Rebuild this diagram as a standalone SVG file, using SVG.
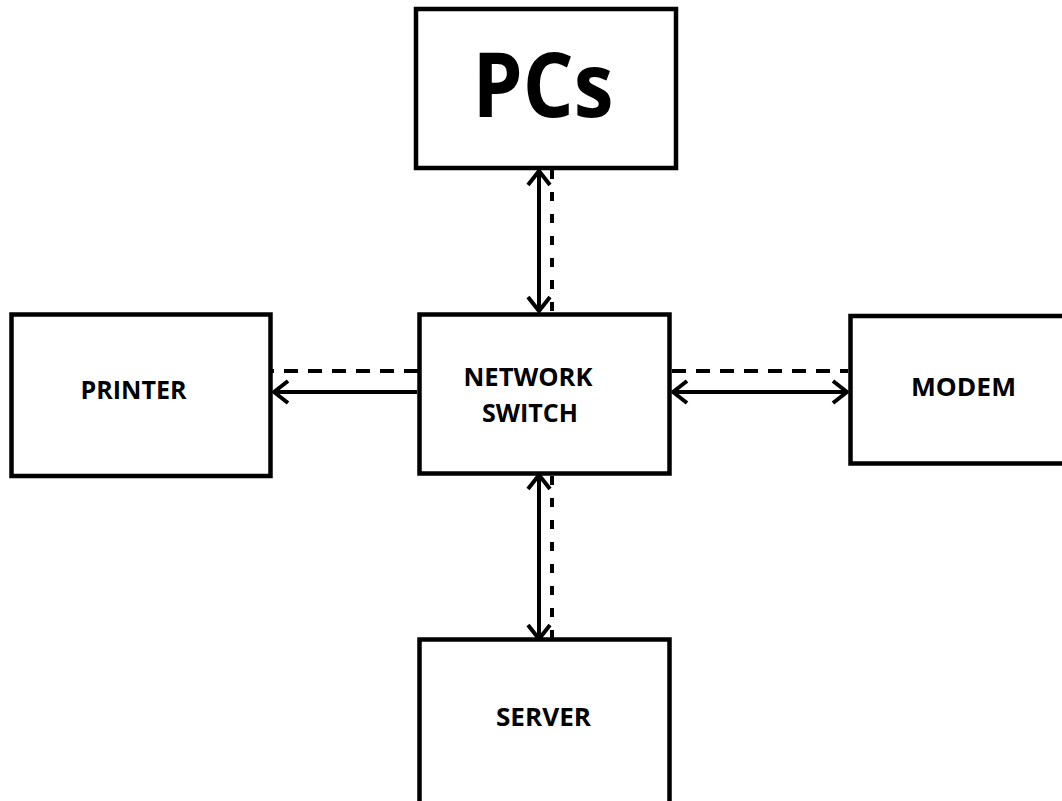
<svg xmlns="http://www.w3.org/2000/svg" width="1062" height="801" viewBox="0 0 1062 801">
<style>
.box{fill:#fff;stroke:#000;stroke-width:4.5}
.lbl{font-family:"Open Sans","Liberation Sans",sans-serif;font-weight:bold;fill:#000;text-anchor:middle}
.solid{stroke:#000;stroke-width:4;fill:none}
.dashh{stroke:#000;stroke-width:4;fill:none;stroke-dasharray:14 10}
.dashv{stroke:#000;stroke-width:4;fill:none;stroke-dasharray:9 13}
</style>
<defs>
<marker id="ah" markerUnits="userSpaceOnUse" viewBox="-18 -14 22 28" refX="0" refY="0" markerWidth="22" markerHeight="28" orient="auto-start-reverse">
<path d="M -14 -11 L 0 0 L -14 11" fill="none" stroke="#000" stroke-width="4" stroke-linejoin="round"/>
</marker>
</defs>
<rect width="1062" height="801" fill="#fff"/>
<g id="connectors">
<line class="solid" x1="539" y1="171" x2="539" y2="311" marker-start="url(#ah)" marker-end="url(#ah)"/>
<line class="dashv" x1="552" y1="170" x2="552" y2="312"/>
<line class="solid" x1="417" y1="392" x2="274" y2="392" marker-end="url(#ah)"/>
<line class="dashh" x1="418" y1="371" x2="272" y2="371"/>
<line class="solid" x1="673" y1="392" x2="847" y2="392" marker-start="url(#ah)" marker-end="url(#ah)"/>
<line class="dashh" x1="672" y1="371" x2="848" y2="371"/>
<line class="solid" x1="539" y1="475" x2="539" y2="639" marker-start="url(#ah)" marker-end="url(#ah)"/>
<line class="dashv" x1="552" y1="476" x2="552" y2="638"/>
</g>
<g id="pcs">
<rect class="box" x="416" y="9" width="260" height="159"/>
<text class="lbl" x="543" y="117" font-size="90" textLength="141" lengthAdjust="spacingAndGlyphs">PCs</text>
</g>
<g id="switch">
<rect class="box" x="419.5" y="314.5" width="250" height="159"/>
<text class="lbl" x="528" y="386" font-size="25" textLength="129" lengthAdjust="spacingAndGlyphs">NETWORK</text>
<text class="lbl" x="530" y="422" font-size="25" textLength="96" lengthAdjust="spacingAndGlyphs">SWITCH</text>
</g>
<g id="printer">
<rect class="box" x="11.5" y="314.5" width="259" height="161.5"/>
<text class="lbl" x="133.5" y="399" font-size="25" textLength="106" lengthAdjust="spacingAndGlyphs">PRINTER</text>
</g>
<g id="modem">
<rect class="box" x="850.5" y="316" width="240" height="147.5"/>
<text class="lbl" x="963.5" y="396" font-size="25" textLength="105" lengthAdjust="spacingAndGlyphs">MODEM</text>
</g>
<g id="server">
<rect class="box" x="419.5" y="639.5" width="250" height="200"/>
<text class="lbl" x="543.5" y="726" font-size="25" textLength="95" lengthAdjust="spacingAndGlyphs">SERVER</text>
</g>
</svg>
